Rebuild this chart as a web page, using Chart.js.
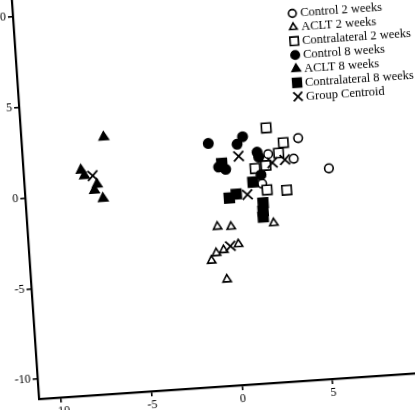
<!DOCTYPE html>
<html>
<head>
<meta charset="utf-8">
<script src="https://cdn.jsdelivr.net/npm/chart.js@4.4.0/dist/chart.umd.min.js"></script>
<style>
  html, body { margin: 0; padding: 0; background: #fff; }
  #wrap { position: relative; width: 415px; height: 410px; overflow: hidden; }
  #plot { position: absolute; left: 0; top: 0; }
</style>
</head>
<body>
<div id="wrap"><canvas id="plot" width="470" height="480"></canvas></div>
<script>
// Discriminant scores (function 1 = x, function 2 = y)
const ctrl2X = [4.01, 2.30, 3.69, 5.59, 1.86];
const ctrl2Y = [2.28, 1.51, 1.16, 0.50, -0.09];

const aclt2X = [-0.76, -0.01, 2.35, -0.92, -0.50, 0.33, -1.21, -0.43];
const aclt2Y = [-2.29, -2.34, -2.30, -3.74, -3.60, -3.33, -4.14, -5.23];

const contra2X = [2.29, 3.18, 2.88, 1.53, 2.13, 2.11, 3.19];
const contra2Y = [2.96, 2.08, 1.53, 0.77, 0.89, -0.46, -0.54];

const ctrl8X = [-0.95, 0.96, 0.63, 1.70, 1.77, -0.47, -0.09, 1.83];
const ctrl8Y = [2.32, 2.56, 2.17, 1.66, 1.38, 0.98, 0.83, 0.40];

const aclt8X = [-6.68, -8.05, -7.89, -7.22, -7.39, -6.94];
const aclt8Y = [3.06, 1.33, 1.01, 0.49, 0.17, -0.31];

const contra8X = [-0.28, 1.36, 0.40, 0.00, 1.84, 1.81, 1.79];
const contra8Y = [1.17, 0.03, -0.57, -0.76, -1.16, -1.60, -1.93];

const centroidX = [3.20, -0.12, 2.50, 0.67, -7.43, 1.01];
const centroidY = [1.14, -3.41, 1.02, 1.50, 0.98, -0.64];

const xTicks = [-10, -5, 0, 5, 10];
const yTicks = [-10, -5, 0, 5, 10];

const seriesLabels = [
  "Control 2 weeks",
  "ACLT 2 weeks",
  "Contralateral 2 weeks",
  "Control 8 weeks",
  "ACLT 8 weeks",
  "Contralateral 8 weeks",
  "Group Centroid"
];

// Achsenbereich / Bildgeometrie
const X_MIN = -11.22;
const Y_MIN = -11.1;
const PX_PER_UNIT = 18.14;
const CORNER_X = 38.7;   // Achsenecke im Bild
const CORNER_Y = 398.8;
const TILT_DEG = -3.9;

const FONT = "'Liberation Serif', 'Times New Roman', serif";

function pts(xs, ys) {
  return xs.map((x, i) => ({ x: x, y: ys[i] }));
}

const styles = [
  { pointStyle: "circle",   radius: 4.3, fill: "#fff" },
  { pointStyle: "triangle", radius: 4.8, fill: "#fff" },
  { pointStyle: "rect",     radius: 6.6, fill: "#fff" },
  { pointStyle: "circle",   radius: 4.7, fill: "#000" },
  { pointStyle: "triangle", radius: 5.3, fill: "#000" },
  { pointStyle: "rect",     radius: 6.8, fill: "#000" },
  { pointStyle: "crossRot", radius: 7.0, fill: "#000" }
];

const seriesData = [
  pts(ctrl2X, ctrl2Y),
  pts(aclt2X, aclt2Y),
  pts(contra2X, contra2Y),
  pts(ctrl8X, ctrl8Y),
  pts(aclt8X, aclt8Y),
  pts(contra8X, contra8Y),
  pts(centroidX, centroidY)
];

const datasets = seriesData.map((d, i) => ({
  label: seriesLabels[i],
  data: d,
  pointStyle: styles[i].pointStyle,
  pointRadius: styles[i].radius,
  pointHoverRadius: styles[i].radius,
  backgroundColor: styles[i].fill,
  borderColor: "#000",
  borderWidth: i === 6 ? 1.8 : 1.6,
  showLine: false,
  order: 6 - i
}));

// Legende oben rechts (wird mitgedreht)
const sideLegend = {
  id: "sideLegend",
  afterDraw(chart) {
    const ctx = chart.ctx;
    const ca = chart.chartArea;
    const x0 = ca.left + 279;
    const y0 = ca.bottom - 367.5;
    ctx.save();
    ctx.font = "12.5px " + FONT;
    ctx.textBaseline = "middle";
    ctx.textAlign = "left";
    styles.forEach((s, i) => {
      const y = y0 + i * 13.9;
      const r = s.radius * 0.9;
      ctx.fillStyle = s.fill;
      ctx.strokeStyle = "#000";
      ctx.lineWidth = 1.6;
      ctx.beginPath();
      if (s.pointStyle === "circle") {
        ctx.arc(x0, y, r, 0, Math.PI * 2);
        ctx.fill(); ctx.stroke();
      } else if (s.pointStyle === "triangle") {
        ctx.moveTo(x0, y - r);
        ctx.lineTo(x0 + r * 0.866, y + r * 0.5);
        ctx.lineTo(x0 - r * 0.866, y + r * 0.5);
        ctx.closePath();
        ctx.fill(); ctx.stroke();
      } else if (s.pointStyle === "rect") {
        const h = r * Math.SQRT1_2;
        ctx.rect(x0 - h, y - h, 2 * h, 2 * h);
        ctx.fill(); ctx.stroke();
      } else {
        const h = r * Math.SQRT1_2;
        ctx.moveTo(x0 - h, y - h); ctx.lineTo(x0 + h, y + h);
        ctx.moveTo(x0 + h, y - h); ctx.lineTo(x0 - h, y + h);
        ctx.lineWidth = 1.8;
        ctx.stroke();
      }
      ctx.fillStyle = "#000";
      ctx.fillText(seriesLabels[i], x0 + 8, y + 0.5);
    });
    ctx.restore();
  }
};

function axis(min, ticks, fit) {
  return {
    type: "linear",
    min: min,
    max: min + 23,
    afterBuildTicks: (scale) => { scale.ticks = ticks.map(v => ({ value: v })); },
    afterFit: fit,
    grid: {
      drawOnChartArea: false,
      drawTicks: true,
      tickLength: 5,
      color: "#000",
      lineWidth: 1.6
    },
    border: { display: true, color: "#000", width: 2.2 },
    ticks: {
      color: "#000",
      padding: 2,
      autoSkip: false,
      maxRotation: 0,
      font: { family: FONT, size: 12 }
    }
  };
}

const canvas = document.getElementById("plot");
const chart = new Chart(canvas, {
  type: "scatter",
  data: { datasets: datasets },
  options: {
    responsive: false,
    animation: false,
    events: [],
    layout: { padding: 0 },
    plugins: {
      legend: { display: false },
      tooltip: { enabled: false }
    },
    scales: {
      x: axis(X_MIN, xTicks, (s) => { s.height = 30; }),
      y: axis(Y_MIN, yTicks, (s) => { s.width = 40; })
    }
  },
  plugins: [sideLegend]
});

// Massstab festlegen und Canvas wie im Original leicht drehen
const ca = chart.chartArea;
chart.options.scales.x.max = X_MIN + ca.width / PX_PER_UNIT;
chart.options.scales.y.max = Y_MIN + ca.height / PX_PER_UNIT;
chart.update("none");

const area = chart.chartArea;
canvas.style.left = (CORNER_X - area.left) + "px";
canvas.style.top = (CORNER_Y - area.bottom) + "px";
canvas.style.transformOrigin = area.left + "px " + area.bottom + "px";
canvas.style.transform = "rotate(" + TILT_DEG + "deg)";
</script>
</body>
</html>
